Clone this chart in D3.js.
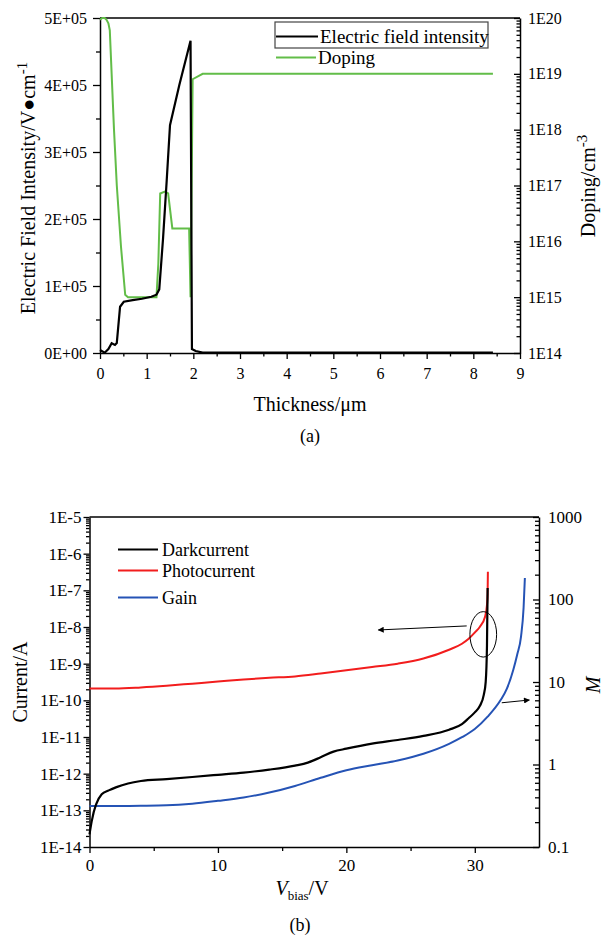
<!DOCTYPE html>
<html>
<head>
<meta charset="utf-8">
<script src="https://cdn.jsdelivr.net/npm/d3@7"></script>
<style>
  body { margin: 0; background: #fff; }
  svg text { font-family: "Liberation Serif", "DejaVu Serif", serif !important; fill: #000; }
</style>
</head>
<body>
<svg id="fig" width="603" height="942"></svg>
<script>
// ---- (a) field and doping vs thickness
var thick = [0, 0.1, 0.18, 0.25, 0.32, 0.36, 0.43, 0.51, 0.7, 0.9, 1.1, 1.21, 1.27, 1.35, 1.43, 1.5, 1.7, 1.94, 1.97, 2.05, 2.2, 8.42];
var field = [4500, 500, 6000, 14500, 12000, 15000, 69000, 76500, 79000, 81000, 84000, 87000, 95000, 170000, 258000, 340000, 400000, 466000, 6000, 3000, 500, 500];

var dopeX = [0, 0.05, 0.1, 0.14, 0.18, 0.21, 0.3, 0.36, 0.45, 0.54, 0.6, 1.21, 1.25, 1.29, 1.39, 1.46, 1.55, 1.91, 1.94, 1.97, 1.985, 2.2, 8.42];
var doping = [9.3e19, 1e20, 1e20, 9.3e19, 8e19, 6e19, 1e18, 1e17, 8e15, 1.1e15, 1e15, 1e15, 4e15, 7.2e16, 7.8e16, 7.2e16, 1.7e16, 1.7e16, 1e15, 3.2e17, 8e18, 1e19, 1e19];

var fieldTicks = [0, 1e5, 2e5, 3e5, 4e5, 5e5];
var fieldLabels = ["0E+00", "1E+05", "2E+05", "3E+05", "4E+05", "5E+05"];
var dopeTicks = [1e14, 1e15, 1e16, 1e17, 1e18, 1e19, 1e20];
var dopeLabels = ["1E14", "1E15", "1E16", "1E17", "1E18", "1E19", "1E20"];

// ---- (b) current and gain vs bias
var vDark = [0, 0.17, 0.95, 1.5, 2.1, 3, 4, 6, 8, 10, 12, 14, 16, 17, 18, 19, 20, 22, 24, 26, 28, 29, 29.5, 30, 30.4, 30.7, 30.85, 30.95, 31.0];
var dark = [2.2e-14, 5e-14, 2.75e-13, 3.5e-13, 4.3e-13, 5.4e-13, 6.3e-13, 7.1e-13, 8.1e-13, 9.3e-13, 1.07e-12, 1.29e-12, 1.66e-12, 2.0e-12, 2.8e-12, 4.0e-12, 4.8e-12, 6.6e-12, 8.3e-12, 1.07e-11, 1.58e-11, 2.24e-11, 3.2e-11, 4.7e-11, 7.1e-11, 1.41e-10, 3.2e-10, 3.2e-9, 1.15e-7];

var vPhoto = [0, 2, 4, 6, 8, 10, 12, 14, 16, 18, 20, 22, 24, 26, 28, 29, 29.5, 30, 30.4, 30.8, 30.95, 31.0, 31.02];
var photo = [2.1e-10, 2.1e-10, 2.25e-10, 2.5e-10, 2.85e-10, 3.25e-10, 3.7e-10, 4.1e-10, 4.5e-10, 5.4e-10, 6.6e-10, 8.1e-10, 1.0e-9, 1.38e-9, 2.4e-9, 3.5e-9, 4.7e-9, 7.1e-9, 1.02e-8, 1.9e-8, 4e-8, 8e-8, 3.2e-7];

var vGain = [0, 2, 4, 6, 8, 10, 12, 14, 16, 18, 20, 22, 24, 26, 28, 29, 30, 31, 32, 32.5, 33, 33.3, 33.6, 33.8, 33.9];
var gain = [0.314, 0.314, 0.316, 0.32, 0.335, 0.363, 0.398, 0.457, 0.55, 0.69, 0.85, 0.98, 1.12, 1.35, 1.78, 2.14, 2.69, 3.8, 6.0, 8.3, 14.1, 21.4, 35.5, 79.4, 182];

var currentTicks = [1e-14, 1e-13, 1e-12, 1e-11, 1e-10, 1e-9, 1e-8, 1e-7, 1e-6, 1e-5];
var currentLabels = ["1E-14", "1E-13", "1E-12", "1E-11", "1E-10", "1E-9", "1E-8", "1E-7", "1E-6", "1E-5"];
var gainTicks = [0.1, 1, 10, 100, 1000];
var gainLabels = ["0.1", "1", "10", "100", "1000"];
var biasTicks = [0, 10, 20, 30];

var serif = '"Liberation Serif", "DejaVu Serif", serif';

var svg = d3.select("#fig");
svg.append("rect").attr("width", 603).attr("height", 942).attr("fill", "#fff");

function styleAxis(g, fs) {
  g.attr("font-family", serif);
  g.select(".domain").attr("stroke", "#000").attr("stroke-width", 1.5);
  g.selectAll(".tick line").attr("stroke", "#000").attr("stroke-width", 1.3);
  g.selectAll(".tick text").attr("font-size", fs).attr("fill", "#000");
}

// ================= (a) =================
var pa = { left: 100, right: 520, top: 18, bottom: 353 };
var xA = d3.scaleLinear().domain([0, 9]).range([pa.left, pa.right]);
var yE = d3.scaleLinear().domain([0, 5e5]).range([pa.bottom, pa.top]);
var yD = d3.scaleLog().domain([1e14, 1e20]).range([pa.bottom, pa.top]);

var ga = svg.append("g").attr("font-family", serif);

// minor ticks
ga.append("g").attr("transform", `translate(0,${pa.bottom})`)
  .call(d3.axisBottom(xA).tickValues(d3.range(0.5, 9, 1)).tickSize(3.5).tickFormat(""))
  .call(g => { styleAxis(g, 16); g.select(".domain").remove(); });
ga.append("g").attr("transform", `translate(${pa.left},0)`)
  .call(d3.axisLeft(yE).tickValues(d3.range(0.5e5, 5e5, 1e5)).tickSize(4).tickFormat(""))
  .call(g => { styleAxis(g, 16); g.select(".domain").remove(); });
ga.append("g").attr("transform", `translate(${pa.right},0)`)
  .call(d3.axisRight(yD).tickValues(yD.ticks().filter(d => dopeTicks.indexOf(d) < 0)).tickSize(-3.5).tickFormat(""))
  .call(g => { styleAxis(g, 16); g.select(".domain").remove(); });

// major axes
ga.append("g").attr("transform", `translate(0,${pa.bottom})`)
  .call(d3.axisBottom(xA).tickValues(d3.range(0, 10)).tickSize(6).tickSizeOuter(0).tickPadding(9).tickFormat(d3.format("d")))
  .call(g => styleAxis(g, 16));
ga.append("g").attr("transform", `translate(${pa.left},0)`)
  .call(d3.axisLeft(yE).tickValues(fieldTicks).tickSize(7).tickSizeOuter(0).tickPadding(6).tickFormat((d, i) => fieldLabels[i]))
  .call(g => styleAxis(g, 16));
ga.append("g").attr("transform", `translate(${pa.right},0)`)
  .call(d3.axisRight(yD).tickValues(dopeTicks).tickSize(-6).tickSizeOuter(0).tickPadding(8).tickFormat((d, i) => dopeLabels[i]))
  .call(g => styleAxis(g, 16));
ga.append("line").attr("x1", pa.left).attr("x2", pa.right).attr("y1", pa.top).attr("y2", pa.top)
  .attr("stroke", "#000").attr("stroke-width", 1.5);

var dopeLine = d3.line().x((d, i) => xA(dopeX[i])).y(d => yD(d));
ga.append("path").attr("d", dopeLine(doping))
  .attr("fill", "none").attr("stroke", "#62bd48").attr("stroke-width", 2);
var fieldLine = d3.line().x((d, i) => xA(thick[i])).y(d => yE(d));
ga.append("path").attr("d", fieldLine(field))
  .attr("fill", "none").attr("stroke", "#000").attr("stroke-width", 2.2);

// legend (a)
ga.append("rect").attr("x", 275).attr("y", 22).attr("width", 213).attr("height", 26)
  .attr("fill", "none").attr("stroke", "#444").attr("stroke-width", 1.2);
ga.append("line").attr("x1", 276).attr("x2", 318).attr("y1", 36.5).attr("y2", 36.5).attr("stroke", "#000").attr("stroke-width", 2);
ga.append("text").attr("x", 320).attr("y", 43).attr("font-size", 19).text("Electric field intensity");
ga.append("line").attr("x1", 276).attr("x2", 316).attr("y1", 57.5).attr("y2", 57.5).attr("stroke", "#62bd48").attr("stroke-width", 2);
ga.append("text").attr("x", 318).attr("y", 64).attr("font-size", 19).text("Doping");

// axis titles (a)
var tl = ga.append("text").attr("transform", "translate(35,188) rotate(-90)").attr("text-anchor", "middle").attr("font-size", 20);
tl.append("tspan").text("Electric Field Intensity/V\u25CFcm");
tl.append("tspan").attr("dy", -8).attr("font-size", 15).text("-1");
var tr = ga.append("text").attr("transform", "translate(595,186) rotate(-90)").attr("text-anchor", "middle").attr("font-size", 20);
tr.append("tspan").text("Doping/cm");
tr.append("tspan").attr("dy", -8).attr("font-size", 15).text("-3");
ga.append("text").attr("x", 310).attr("y", 411).attr("text-anchor", "middle").attr("font-size", 20).text("Thickness/\u03bcm");
ga.append("text").attr("x", 310).attr("y", 442).attr("text-anchor", "middle").attr("font-size", 18).text("(a)");

// ================= (b) =================
var pb = { left: 89.5, right: 539, top: 517, bottom: 847 };
var xB = d3.scaleLinear().domain([0, 35]).range([pb.left, pb.right]);
var yI = d3.scaleLog().domain([1e-14, 1e-5]).range([pb.bottom, pb.top]);
var yM = d3.scaleLog().domain([0.1, 1000]).range([pb.bottom, pb.top]);

var gb = svg.append("g").attr("font-family", serif);

gb.append("g").attr("transform", `translate(0,${pb.bottom})`)
  .call(d3.axisBottom(xB).tickValues([5, 15, 25]).tickSize(4).tickFormat(""))
  .call(g => { styleAxis(g, 17); g.select(".domain").remove(); });
gb.append("g").attr("transform", `translate(${pb.left},0)`)
  .call(d3.axisLeft(yI).tickValues(yI.ticks().filter(d => currentTicks.indexOf(d) < 0)).tickSize(3.5).tickFormat(""))
  .call(g => { styleAxis(g, 17); g.select(".domain").remove(); });
gb.append("g").attr("transform", `translate(${pb.right},0)`)
  .call(d3.axisRight(yM).tickValues(yM.ticks().filter(d => gainTicks.indexOf(d) < 0)).tickSize(-4).tickFormat(""))
  .call(g => { styleAxis(g, 17); g.select(".domain").remove(); });

gb.append("g").attr("transform", `translate(0,${pb.bottom})`)
  .call(d3.axisBottom(xB).tickValues(biasTicks).tickSize(6).tickSizeOuter(0).tickPadding(6).tickFormat(d3.format("d")))
  .call(g => styleAxis(g, 17));
gb.append("g").attr("transform", `translate(${pb.left},0)`)
  .call(d3.axisLeft(yI).tickValues(currentTicks).tickSize(6).tickSizeOuter(0).tickPadding(2).tickFormat((d, i) => currentLabels[i]))
  .call(g => styleAxis(g, 17));
gb.append("g").attr("transform", `translate(${pb.right},0)`)
  .call(d3.axisRight(yM).tickValues(gainTicks).tickSize(-6).tickSizeOuter(0).tickPadding(9).tickFormat((d, i) => gainLabels[i]))
  .call(g => styleAxis(g, 17));
gb.append("line").attr("x1", pb.left).attr("x2", pb.right).attr("y1", pb.top).attr("y2", pb.top)
  .attr("stroke", "#000").attr("stroke-width", 1.5);

var gainLine = d3.line().curve(d3.curveMonotoneX).x((d, i) => xB(vGain[i])).y(d => yM(d));
gb.append("path").attr("d", gainLine(gain)).attr("fill", "none").attr("stroke", "#2553b5").attr("stroke-width", 2);
var photoLine = d3.line().curve(d3.curveMonotoneX).x((d, i) => xB(vPhoto[i])).y(d => yI(d));
gb.append("path").attr("d", photoLine(photo)).attr("fill", "none").attr("stroke", "#f21d1d").attr("stroke-width", 2);
var darkLine = d3.line().curve(d3.curveMonotoneX).x((d, i) => xB(vDark[i])).y(d => yI(d));
gb.append("path").attr("d", darkLine(dark)).attr("fill", "none").attr("stroke", "#000").attr("stroke-width", 2.2);

// annotations: ellipse and arrows
var ell = { v: 30.66, vr: 1.04, i: 6.3e-9, iTop: 2.6e-8, iBot: 1.5e-9 };
gb.append("ellipse").attr("cx", xB(ell.v)).attr("cy", yI(ell.i))
  .attr("rx", xB(ell.v + ell.vr) - xB(ell.v)).attr("ry", (yI(ell.iBot) - yI(ell.iTop)) / 2)
  .attr("fill", "none").attr("stroke", "#000").attr("stroke-width", 1);

svg.append("defs").append("marker").attr("id", "ah").attr("viewBox", "0 0 10 10")
  .attr("refX", 9).attr("refY", 5).attr("markerWidth", 9).attr("markerHeight", 6).attr("orient", "auto")
  .attr("markerUnits", "userSpaceOnUse")
  .append("path").attr("d", "M0,0L10,5L0,10Z").attr("fill", "#000");

var arrowLeft = { v0: 29.37, i0: 1.07e-8, v1: 22.49, i1: 8.3e-9 };
gb.append("line").attr("x1", xB(arrowLeft.v0)).attr("y1", yI(arrowLeft.i0))
  .attr("x2", xB(arrowLeft.v1)).attr("y2", yI(arrowLeft.i1))
  .attr("stroke", "#000").attr("stroke-width", 1).attr("marker-end", "url(#ah)");
var arrowRight = { v0: 32.1, m0: 5.6, v1: 34.25, m1: 6.05 };
gb.append("line").attr("x1", xB(arrowRight.v0)).attr("y1", yM(arrowRight.m0))
  .attr("x2", xB(arrowRight.v1)).attr("y2", yM(arrowRight.m1))
  .attr("stroke", "#000").attr("stroke-width", 1).attr("marker-end", "url(#ah)");

// legend (b)
var legB = [["Darkcurrent", "#000", 549.5], ["Photocurrent", "#f21d1d", 570.5], ["Gain", "#2553b5", 597.5]];
legB.forEach(function (d) {
  gb.append("line").attr("x1", 118).attr("x2", 158).attr("y1", d[2]).attr("y2", d[2]).attr("stroke", d[1]).attr("stroke-width", 2);
  gb.append("text").attr("x", 162).attr("y", d[2] + 6).attr("font-size", 18).text(d[0]);
});

// axis titles (b)
gb.append("text").attr("transform", "translate(27,682) rotate(-90)").attr("text-anchor", "middle").attr("font-size", 20).text("Current/A");
gb.append("text").attr("transform", "translate(600,685) rotate(-90)").attr("text-anchor", "middle")
  .attr("font-size", 20).attr("font-style", "italic").text("M");
var xt = gb.append("text").attr("x", 302).attr("y", 895).attr("text-anchor", "middle").attr("font-size", 20);
xt.append("tspan").attr("font-style", "italic").text("V");
xt.append("tspan").attr("dy", 5).attr("font-size", 13).text("bias");
xt.append("tspan").attr("dy", -5).text("/V");
gb.append("text").attr("x", 300).attr("y", 931).attr("text-anchor", "middle").attr("font-size", 18).text("(b)");
</script>
</body>
</html>
